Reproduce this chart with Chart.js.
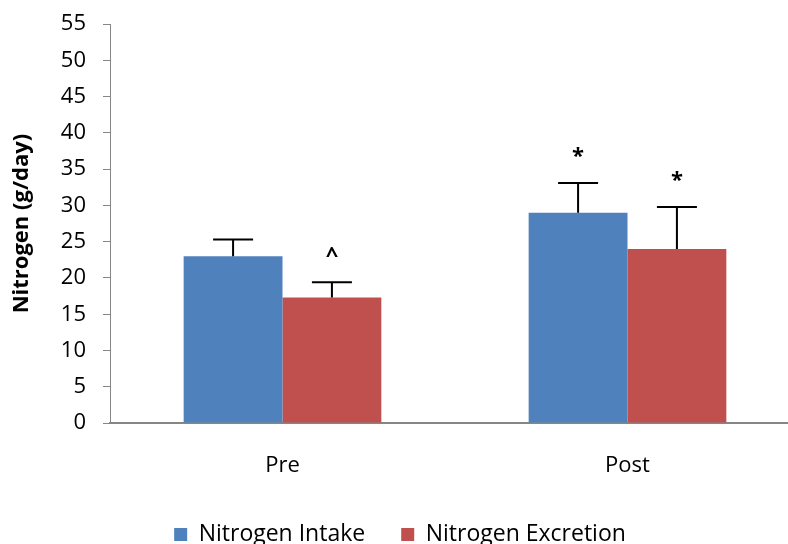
<!DOCTYPE html>
<html>
<head>
<meta charset="utf-8">
<script src="https://cdn.jsdelivr.net/npm/chart.js@4"></script>
<style>
  html, body { margin: 0; padding: 0; background: #fff; overflow: hidden; }
  #wrap { width: 800px; height: 550px; margin-top: -6px; }
</style>
</head>
<body>
<div id="wrap"><canvas id="nitrogen"></canvas></div>
<script>
const categories = ['Pre', 'Post'];
const intake = [23.0, 29.0];
const excretion = [17.3, 24.0];
const intakeErr = [25.3, 33.1];
const excretionErr = [19.4, 29.8];
const intakeMarks = ['', '*'];
const excretionMarks = ['^', '*'];
const yTicks = [0, 5, 10, 15, 20, 25, 30, 35, 40, 45, 50, 55];

const FONT = "'Open Sans', 'Liberation Sans', sans-serif";
const axisGrey = '#868686';

// upper error bars + significance marks, drawn from the bar elements
const errorBars = {
  id: 'errorBars',
  afterDatasetsDraw(chart) {
    const ctx = chart.ctx;
    const y = chart.scales.y;
    chart.data.datasets.forEach((ds, i) => {
      const meta = chart.getDatasetMeta(i);
      meta.data.forEach((bar, j) => {
        const top = y.getPixelForValue(ds.errTop[j]);
        ctx.save();
        ctx.strokeStyle = '#000';
        ctx.lineWidth = 2;
        ctx.beginPath();
        ctx.moveTo(bar.x, bar.y);
        ctx.lineTo(bar.x, top);
        ctx.moveTo(bar.x - 20, top);
        ctx.lineTo(bar.x + 20, top);
        ctx.stroke();
        if (ds.marks[j]) {
          ctx.fillStyle = '#000';
          ctx.font = 'bold 22px ' + FONT;
          ctx.textAlign = 'center';
          ctx.textBaseline = 'alphabetic';
          ctx.fillText(ds.marks[j], bar.x, top - 20);
        }
        ctx.restore();
      });
    });
  }
};

const ctx = document.getElementById('nitrogen').getContext('2d');
new Chart(ctx, {
  type: 'bar',
  data: {
    labels: categories,
    datasets: [
      {
        label: 'Nitrogen Intake',
        data: intake,
        errTop: intakeErr,
        marks: intakeMarks,
        backgroundColor: '#4F81BD',
        borderWidth: 0,
        categoryPercentage: 0.573,
        barPercentage: 1.0,
      },
      {
        label: 'Nitrogen Excretion',
        data: excretion,
        errTop: excretionErr,
        marks: excretionMarks,
        backgroundColor: '#C0504D',
        borderWidth: 0,
        categoryPercentage: 0.573,
        barPercentage: 1.0,
      },
    ],
  },
  options: {
    responsive: true,
    maintainAspectRatio: false,
    animation: false,
    layout: { padding: { top: 15, right: 0, left: 0, bottom: -12 } },
    scales: {
      x: {
        grid: { display: false },
        border: { display: true, color: axisGrey, width: 2 },
        ticks: { color: '#000', padding: 22, font: { family: FONT, size: 22 } },
        afterFit: (scale) => { scale.height = 64; },
      },
      y: {
        min: 0,
        max: 55,
        afterBuildTicks: (scale) => { scale.ticks = yTicks.map(v => ({ value: v })); },
        grid: { drawOnChartArea: false, drawTicks: true, tickLength: 7, color: axisGrey, lineWidth: 1 },
        border: { display: true, color: axisGrey, width: 1 },
        ticks: { color: '#000', padding: 17, font: { family: FONT, size: 22 } },
        title: {
          display: true,
          text: 'Nitrogen (g/day)',
          color: '#000',
          font: { family: FONT, size: 22, weight: 'bold' },
          padding: { top: 9, bottom: 0 },
        },
        afterFit: (scale) => { scale.width = 110; },
      },
    },
    plugins: {
      legend: {
        position: 'bottom',
        labels: {
          color: '#000',
          boxWidth: 13,
          boxHeight: 13,
          padding: 36,
          font: { family: FONT, size: 23 },
        },
      },
      tooltip: { enabled: false },
    },
  },
  plugins: [errorBars],
});
</script>
</body>
</html>
